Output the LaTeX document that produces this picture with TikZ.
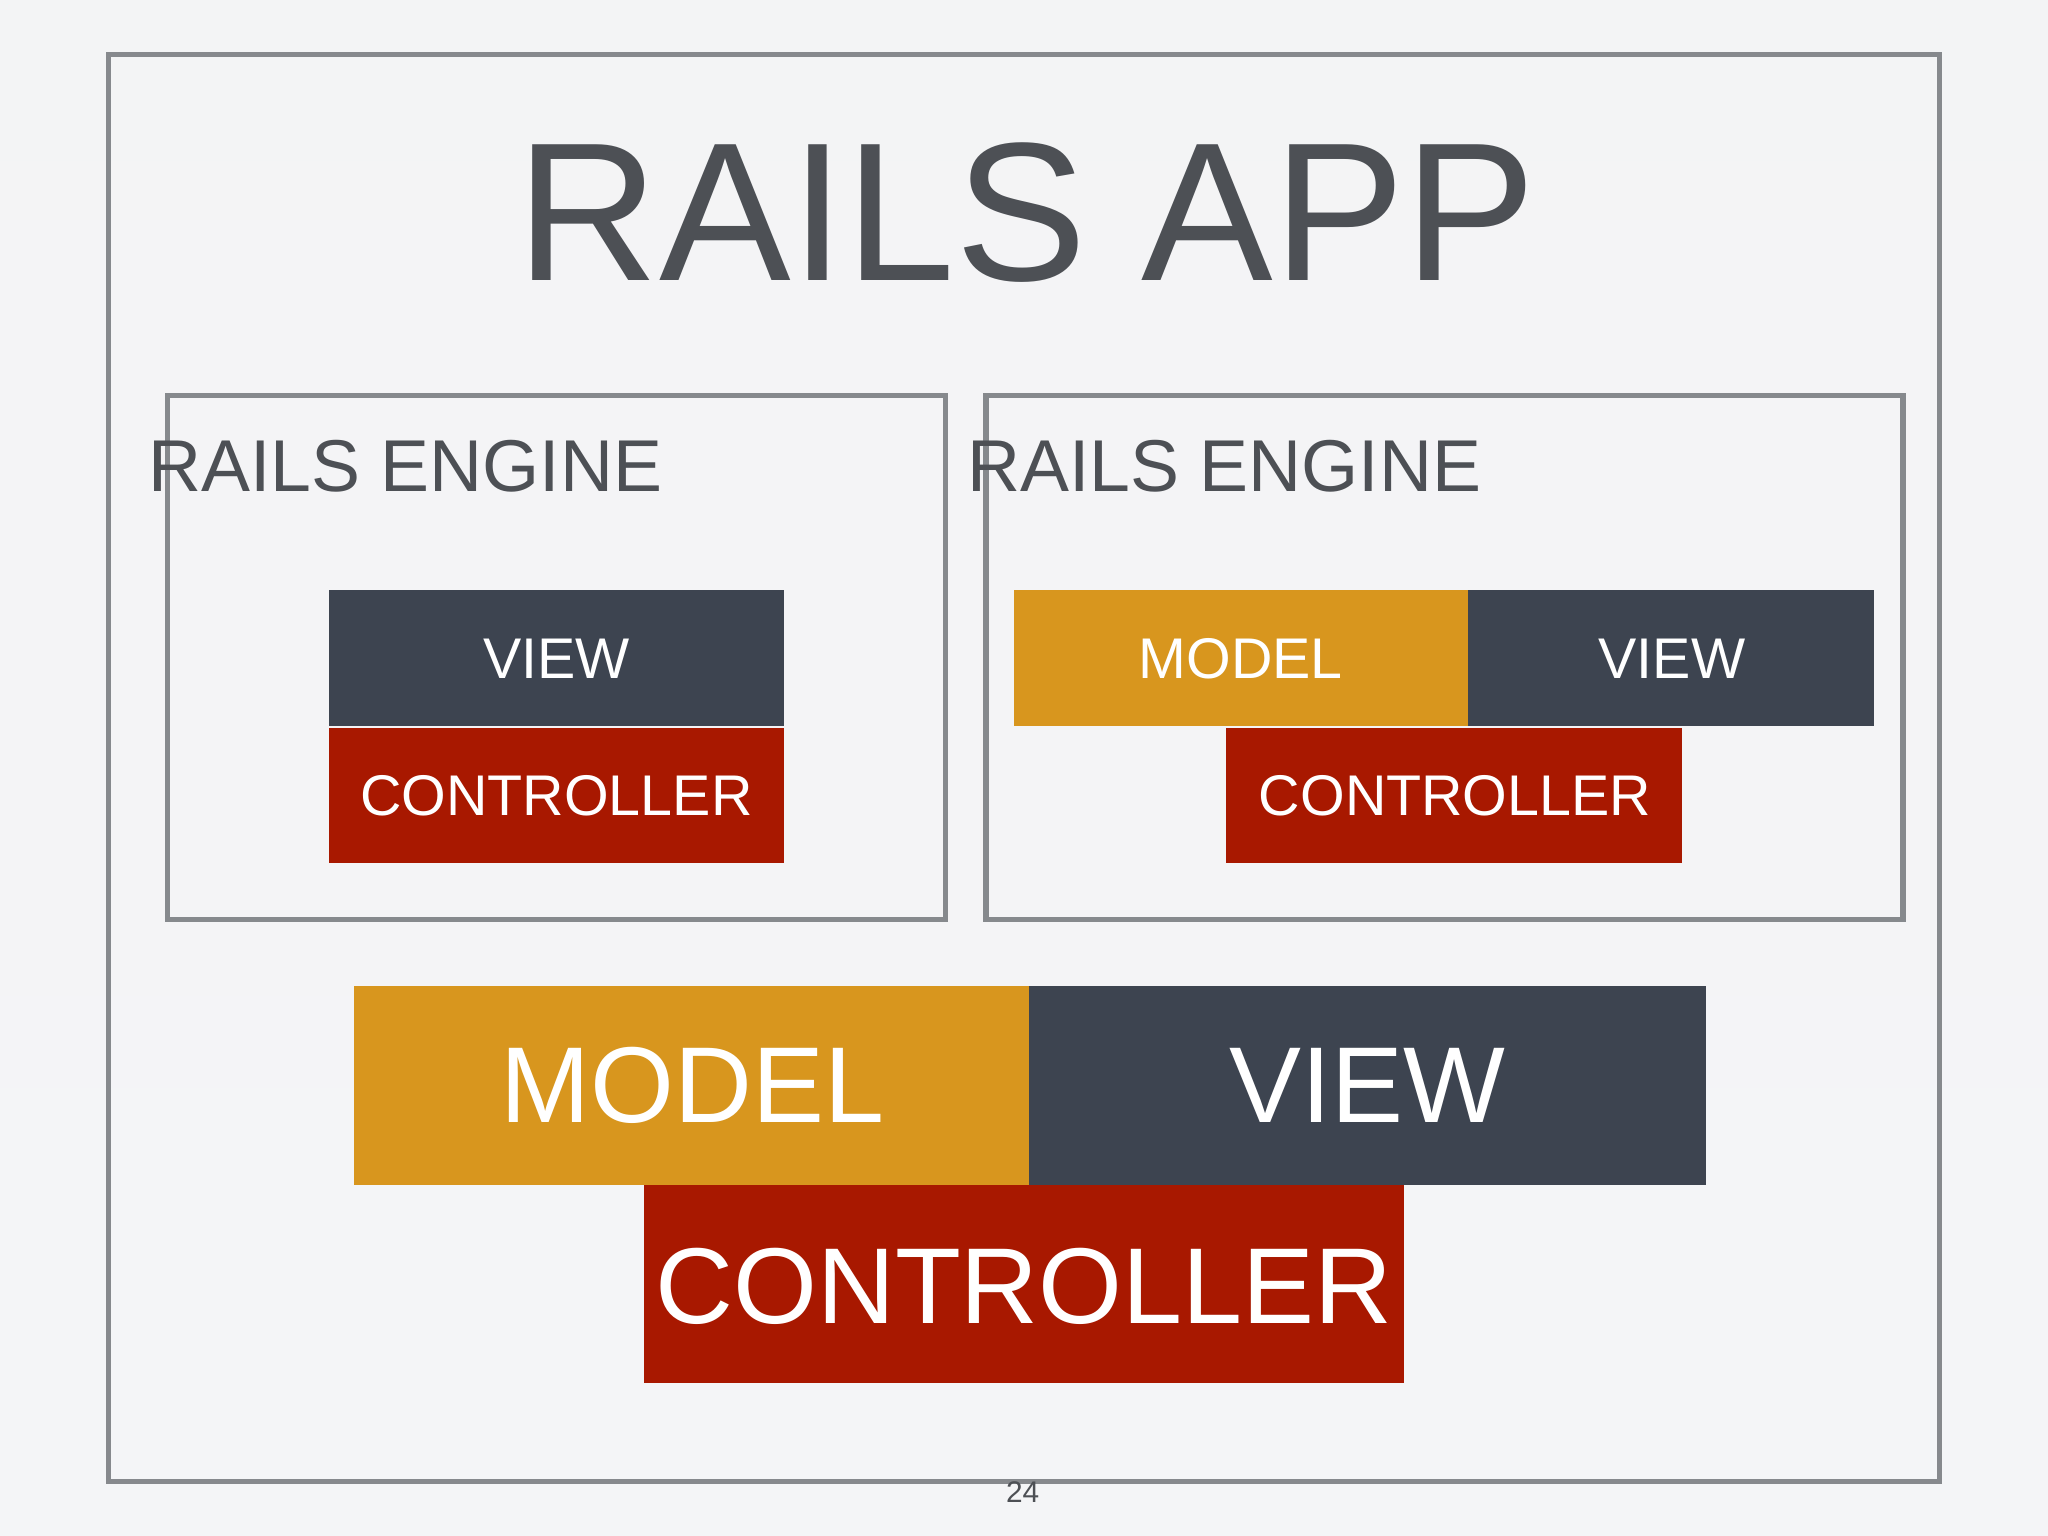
\documentclass[tikz,border=0pt]{standalone}
\usepackage{fontspec}
\setmainfont{Liberation Sans}
\definecolor{bg}{HTML}{EDEEF2}
\definecolor{frame}{HTML}{86898D}
\definecolor{txt}{HTML}{4D5055}
\definecolor{slate}{HTML}{3D4450}
\definecolor{gold}{HTML}{D8961E}
\definecolor{brick}{HTML}{A81800}
\begin{document}
\begin{tikzpicture}[x=0.02cm,y=-0.02cm,
  frm/.style={draw=frame,line width=2.3pt},
  blk/.style={inner sep=0,text=white},
  small/.style={font=\fontsize{25}{25}\selectfont},
  big/.style={font=\fontsize{47}{47}\selectfont}]
\fill[top color=bg!90!gray!40,bottom color=bg!60!white] (0,0) rectangle (1568,1176);
\useasboundingbox (0,0) rectangle (1568,1176);
\draw[frm] (83,42) rectangle (1485,1134);
\node[anchor=base,text=txt,font=\fontsize{86}{86}\selectfont,inner sep=0] (title) at (786,215) {RAILS APP};
\draw[frm] (128,303) rectangle (724,704);
\draw[frm] (755,303) rectangle (1457,704);
\node[anchor=base west,text=txt,font=\fontsize{32}{32}\selectfont,inner sep=0] (e1) at (113,376) {RAILS ENGINE};
\node[anchor=base west,text=txt,font=\fontsize{32}{32}\selectfont,inner sep=0] (e2) at (740,376) {RAILS ENGINE};
% left engine
\fill[slate] (252,452) rectangle (600,556);
\fill[brick] (252,557) rectangle (600,661);
\node[blk,small] (v1) at (426,504) {VIEW};
\node[blk,small] (c1) at (426,609) {CONTROLLER};
% right engine
\fill[gold] (776,452) rectangle (1124,556);
\fill[slate] (1124,452) rectangle (1435,556);
\fill[brick] (939,557) rectangle (1288,661);
\node[blk,small] (m2) at (950,504) {MODEL};
\node[blk,small] (v2) at (1280,504) {VIEW};
\node[blk,small] (c2) at (1114,609) {CONTROLLER};
% app
\fill[gold] (271,755) rectangle (788,907);
\fill[slate] (788,755) rectangle (1306,907);
\fill[brick] (493,907) rectangle (1075,1059);
\node[blk,big] (m3) at (530,831) {MODEL};
\node[blk,big] (v3) at (1047,831) {VIEW};
\node[blk,big] (c3) at (784,985) {CONTROLLER};
\node[anchor=base,text=txt,font=\fontsize{13}{13}\selectfont,inner sep=0] (pg) at (783,1150) {24};
\end{tikzpicture}
\end{document}
